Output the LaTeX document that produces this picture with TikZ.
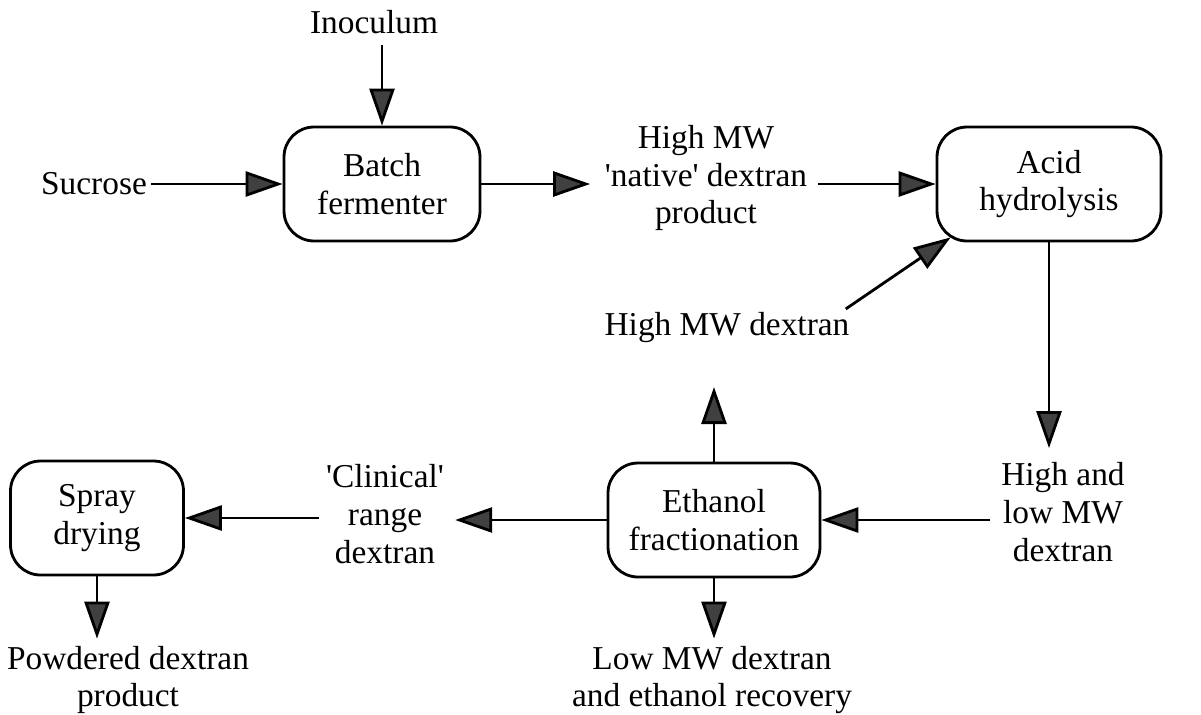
\documentclass[tikz,border=0pt]{standalone}
\usepackage{fontspec}
\setmainfont{Liberation Serif}
\usetikzlibrary{arrows.meta,positioning}
\newcommand{\sq}{\textquotesingle}
\tikzset{%
  unit/.style={rectangle,draw=black,rounded corners=0.6cm,line width=1.6pt,minimum height=2.28cm,align=center,inner sep=2pt},
  stream/.style={align=center,inner sep=2pt},
  flow/.style={draw,line width=1.6pt,-{Triangle[length=7.4mm,width=5mm,fill=black!75]}}%
}

\begin{document}
\begin{tikzpicture}[x=0.02cm,y=-0.02cm,font=\fontsize{19}{21.5}\selectfont]
    \useasboundingbox (0,0) rectangle (1201,714);

    \node (batch) [unit,minimum width=3.92cm] at (382,184) {Batch\\fermenter};
    \node (acid) [unit,minimum width=4.48cm] at (1049,184) {Acid\\hydrolysis};
    \node (eth) [unit,minimum width=4.24cm] at (714,520) {Ethanol\\fractionation};
    \node (spray) [unit,minimum width=3.46cm] at (97,518) {Spray\\drying};

    \node (inoc) [stream] at (374,22) {Inoculum};
    \node (sucrose) [stream] at (94,184) {Sucrose};
    \node (native) [stream] at (706,178) {High MW\\\sq native\sq{} dextran\\product};
    \node (hmwd) [stream] at (727,328) {High MW dextran};
    \node (hlmw) [stream] at (1063,512) {High and\\low MW\\dextran};
    \node (clin) [stream] at (385,514) {\sq Clinical\sq\\range\\dextran};
    \node (lowmw) [stream] at (712,680) {Low MW dextran\\and ethanol recovery};
    \node (powd) [stream] at (128,680) {Powdered dextran\\product};

    \path (inoc.south -| batch.north) edge[flow,shorten <=4pt] (batch.north);
    \path (sucrose) edge[flow] (batch);
    \path (batch.east) edge[flow,shorten >=0.22cm] (batch.east -| native.west);
    \path (native.east |- acid.west) edge[flow,shorten <=0.14cm] (acid.west);
    \path (acid.south) edge[flow,shorten >=6pt] (acid.south |- hlmw.north);
    \path (hlmw.west |- eth.east) edge[flow,shorten <=4pt] (eth.east);
    \path (eth.west) edge[flow,shorten >=0.15cm] (eth.west -| clin.east);
    \path (clin.west |- spray.east) edge[flow,shorten <=2pt] (spray.east);
    \path (spray.south) edge[flow,shorten >=2pt] (spray.south |- powd.north);
    \path (eth.south) edge[flow,shorten >=2pt] (eth.south |- lowmw.north);
    \path (eth.north) edge[flow,shorten >=0.8cm] (eth.north |- hmwd.south);
    \path ([xshift=-0.15cm]hmwd.north east) edge[flow] ([shift={(15,-5)}]acid.south west);

  \end{tikzpicture}
\end{document}
